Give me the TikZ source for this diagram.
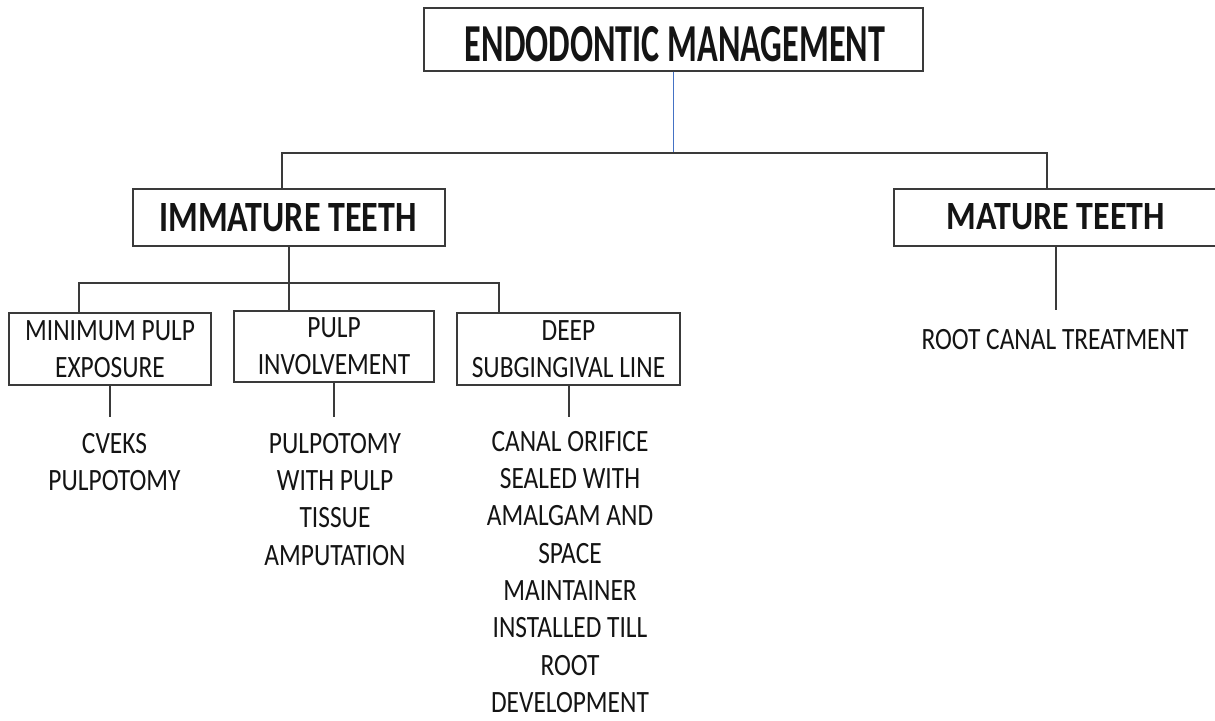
\documentclass[tikz,border=0pt]{standalone}
\usepackage{fontspec}
\usepackage{graphicx}
\setmainfont{Carlito}
\newfontfamily\bodyfont{Carlito}[FakeStretch=0.82]
\usetikzlibrary{calc}
\definecolor{lineblue}{HTML}{4472C4}
\definecolor{ink}{HTML}{141414}
\definecolor{edge}{HTML}{3A3A3A}
\tikzset{
  box/.style={draw=edge, line width=1.1pt, inner sep=0pt},
  conn/.style={draw=edge, line width=1.1pt},
  hdr/.style={inner sep=0pt, font=\bfseries, text=ink},
  body/.style={inner sep=0pt, align=center, font=\bodyfont\fontsize{31}{37.3}\selectfont, text=ink},
}
\begin{document}
\begin{tikzpicture}[x=1pt,y=-1pt]
\useasboundingbox (0,0) rectangle (1215,720);
\clip (0,0) rectangle (1215,720);
\fill[white] (0,0) rectangle (1215,720);

% top level
\node[box, minimum width=499pt, minimum height=63pt] (top) at (673.5,39.5) {};
\node[hdr] (topt) at (675,44.5) {\resizebox{420pt}{35pt}{ENDODONTIC MANAGEMENT}};

% second level
\node[box, minimum width=312pt, minimum height=57pt] (imm) at (289,217.5) {};
\node[hdr] (immt) at (288,217.5) {\resizebox{257pt}{28pt}{IMMATURE TEETH}};
\node[box, minimum width=324pt, minimum height=57pt] (mat) at (1056,217.5) {};
\node[hdr] (matt) at (1056,217) {\resizebox{218pt}{26pt}{MATURE TEETH}};

% third level
\node[box, body, minimum width=202pt, minimum height=72pt] (minp) at (110,349) {MINIMUM PULP\\EXPOSURE};
\node[box, body, minimum width=200pt, minimum height=71pt] (pulp) at (334,346.5) {PULP\\INVOLVEMENT};
\node[box, body, minimum width=223pt, minimum height=72pt] (deep) at (568.5,349) {DEEP\\SUBGINGIVAL LINE};

% leaves
\node[body, anchor=north] (l1) at (114.5,433) {CVEKS\\PULPOTOMY};
\node[body, anchor=north] (l2) at (335,433) {PULPOTOMY\\WITH PULP\\TISSUE\\AMPUTATION};
\node[body, anchor=north] (l3) at (570,431) {CANAL ORIFICE\\SEALED WITH\\AMALGAM AND\\SPACE\\MAINTAINER\\INSTALLED TILL\\ROOT\\DEVELOPMENT};
\node[body] (l4) at (1055,340) {ROOT CANAL TREATMENT};

% connectors
\coordinate (j1) at (673.5,153);
\draw[lineblue, line width=0.9pt] (top.south) -- (j1);
\draw[conn] ([xshift=-7pt]imm.north) |- (j1) -| ([xshift=-9pt]mat.north);

\coordinate (j2) at (289,283);
\draw[conn] (imm.south) -- (j2);
\draw[conn] ([xshift=-31pt]minp.north) |- (j2) -| ([xshift=-69.5pt]deep.north);
\draw[conn] ([xshift=-45pt]pulp.north) -- (j2);

\coordinate (e1) at (110,417);
\coordinate (e2) at (334,417);
\coordinate (e3) at (569,417);
\coordinate (e4) at (1056,310);
\draw[conn] (minp.south) -- (e1);
\draw[conn] (pulp.south) -- (e2);
\draw[conn] (deep.south -| e3) -- (e3);
\draw[conn] (mat.south) -- (e4);
\end{tikzpicture}
\end{document}
